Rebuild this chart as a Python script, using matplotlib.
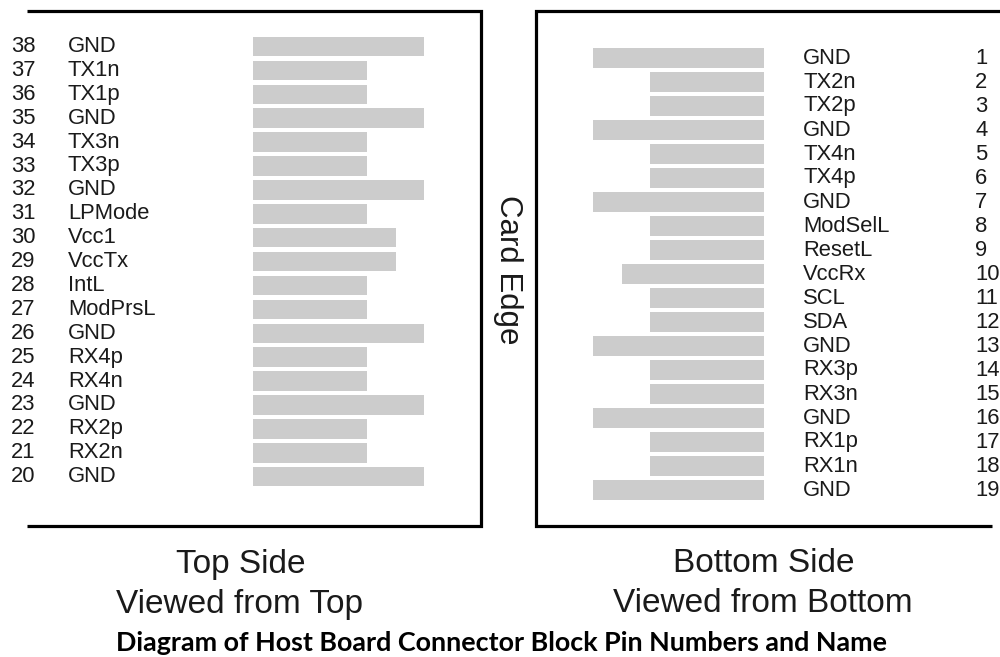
import matplotlib
matplotlib.use('Agg')
import matplotlib.pyplot as plt

# pin data, top side (left panel) and bottom side (right panel)
top_pins = [38, 37, 36, 35, 34, 33, 32, 31, 30, 29, 28, 27, 26, 25, 24, 23, 22, 21, 20]
top_names = ['GND', 'TX1n', 'TX1p', 'GND', 'TX3n', 'TX3p', 'GND', 'LPMode', 'Vcc1',
             'VccTx', 'IntL', 'ModPrsL', 'GND', 'RX4p', 'RX4n', 'GND', 'RX2p', 'RX2n', 'GND']
# contact pad length (long = ground, medium = power, short = signal)
top_len = [3, 2, 2, 3, 2, 2, 3, 2, 2.5, 2.5, 2, 2, 3, 2, 2, 3, 2, 2, 3]

bot_pins = [1, 2, 3, 4, 5, 6, 7, 8, 9, 10, 11, 12, 13, 14, 15, 16, 17, 18, 19]
bot_names = ['GND', 'TX2n', 'TX2p', 'GND', 'TX4n', 'TX4p', 'GND', 'ModSelL', 'ResetL',
             'VccRx', 'SCL', 'SDA', 'GND', 'RX3p', 'RX3n', 'GND', 'RX1p', 'RX1n', 'GND']
bot_len = [3, 2, 2, 3, 2, 2, 3, 2, 2, 2.5, 2, 2, 3, 2, 2, 3, 2, 2, 3]

UNIT = 57.0          # pixels per length unit
BAR_H = 19.5
TXT = '#1a1a1a'
BAR_C = '#cccccc'
SANS = ['Liberation Sans', 'DejaVu Sans']

fig = plt.figure(figsize=(10, 6.57), dpi=100)
ax = fig.add_axes([0, 0, 1, 1])
ax.set_xlim(0, 1000)
ax.set_ylim(657, 0)
ax.axis('off')

# left panel
y_left = [46.5 + 23.9 * i for i in range(len(top_pins))]
ax.barh(y_left, [v * UNIT for v in top_len], height=BAR_H, left=253, color=BAR_C)
for y, p, n in zip(y_left, top_pins, top_names):
    ax.text(11, y, str(p), fontsize=15.8, family=SANS, color=TXT, va='center', ha='left')
    ax.text(68, y, n, fontsize=15.8, family=SANS, color=TXT, va='center', ha='left')

# right panel, pads anchored on the right edge
y_right = [58 + 24.0 * i for i in range(len(bot_pins))]
ax.barh(y_right, [v * UNIT for v in bot_len], height=BAR_H,
        left=[764 - v * UNIT for v in bot_len], color=BAR_C)
for y, p, n in zip(y_right, bot_pins, bot_names):
    ax.text(803, y, n, fontsize=15.8, family=SANS, color=TXT, va='center', ha='left')
    ax.text(975, y, str(p), fontsize=15.8, family=SANS, color=TXT, va='center', ha='left')

# boxes
lw = 2.3
ax.plot([27, 481, 481, 27], [10.5, 10.5, 525.5, 525.5], color='black', lw=lw,
        solid_joinstyle='miter', solid_capstyle='butt')
ax.plot([1000, 536, 536, 992], [10.5, 10.5, 525.5, 525.5], color='black', lw=lw,
        solid_joinstyle='miter', solid_capstyle='butt')

ax.text(508, 270, 'Card Edge', fontsize=22.5, family=SANS, color=TXT,
        rotation=-90, va='center', ha='center')

ax.text(241, 564, 'Top Side', fontsize=24, family=SANS, color=TXT, va='center', ha='center')
ax.text(240, 604, 'Viewed from Top', fontsize=24, family=SANS, color=TXT, va='center', ha='center')
ax.text(764, 564, 'Bottom Side', fontsize=24, family=SANS, color=TXT, va='center', ha='center')
ax.text(763, 604, 'Viewed from Bottom', fontsize=24, family=SANS, color=TXT, va='center', ha='center')

ax.text(501, 643, 'Diagram of Host Board Connector Block Pin Numbers and Name',
        fontsize=19.4, family=['Lato', 'DejaVu Sans'], fontweight='bold', color='black',
        va='center', ha='center')

fig.savefig('out.png', dpi=100)
